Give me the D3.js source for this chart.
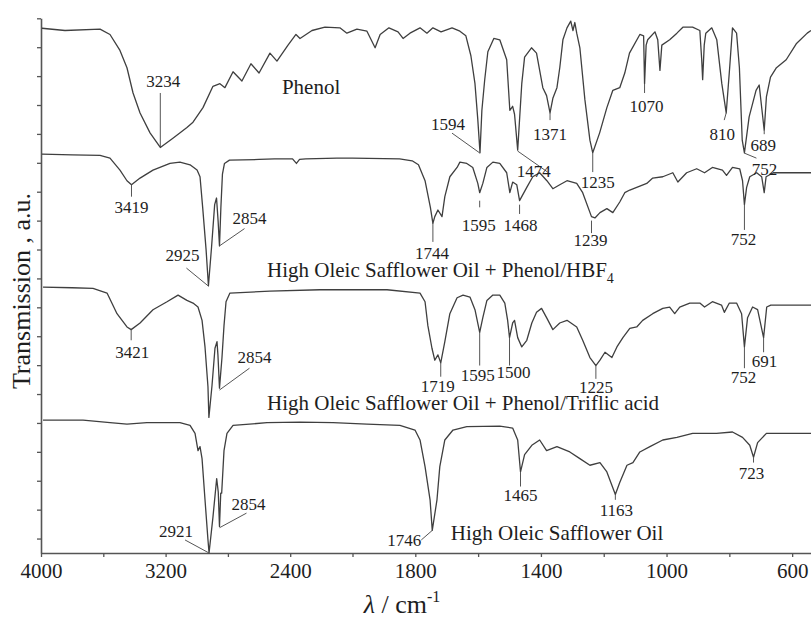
<!DOCTYPE html>
<html>
<head>
<meta charset="utf-8">
<title>FTIR spectra</title>
<script src="https://d3js.org/d3.v7.min.js"></script>
<style>
  body { margin:0; background:#fff; }
  svg text { font-family: "Liberation Serif", "Times New Roman", serif; fill:#1e1e1e; }
</style>
</head>
<body>
<svg id="chart" width="811" height="621"></svg>
<script>
// spectra: [wavenumber cm-1, transmission (a.u., 0-100 within its own trace)]
const phenol = [[3994,94.7],[3846,93],[3621,94],[3557,90],[3493,78],[3448,65],[3409,46],[3364,31],[3300,16],[3234,5],[3153,12],[3063,20],[3024,24],[2960,35],[2896,51],[2851,53],[2819,50],[2767,62],[2710,55],[2652,68],[2600,61],[2530,76],[2485,70],[2414,82],[2363,90],[2337,87],[2260,93],[2177,95.5],[2081,95],[2036,91],[1986,94],[1954,92.5],[1928,80],[1912,90],[1884,95],[1855,92],[1839,87],[1817,91],[1785,95],[1763,91],[1744,95],[1718,92],[1683,95],[1658,92.5],[1639,89],[1623,74],[1610,53],[1601,26],[1594,1],[1588,33],[1579,56],[1569,77],[1550,87],[1531,86],[1509,71],[1499,33],[1490,36],[1484,30],[1474,3],[1461,53],[1452,73],[1430,80],[1414,76],[1394,50],[1382,44],[1371,31],[1362,42],[1349,50],[1340,65],[1330,86],[1317,95],[1305,100],[1298,93],[1292,99],[1286,91],[1276,80],[1260,41],[1244,10.5],[1235,1],[1213,16],[1190,35],[1171,48],[1149,50],[1133,61],[1118,76],[1085,90],[1073,89],[1070,53],[1065,82],[1060,86],[1037,92],[1028,86],[1021,63],[1015,82],[990,86],[967,91],[948,95.5],[917,95.5],[894,93],[888,71],[885,56],[880,82],[875,91],[856,95],[840,86],[824,53],[810,31],[799,65],[790,95],[777,91],[768,65],[759,10.5],[752,1],[737,28],[715,48],[705,52],[689,18],[682,43],[669,58],[650,65],[619,71],[587,83],[552,91],[540,93]];

const hbf4 = [[3994,100],[3800,99.5],[3621,99],[3557,97],[3493,88],[3448,80],[3419,77],[3364,82],[3281,88],[3172,93],[3108,94],[3043,92],[2998,88],[2979,83],[2962,60],[2940,28],[2925,1],[2905,30],[2885,62],[2873,67],[2863,50],[2854,31],[2845,60],[2835,85],[2822,93],[2790,95.5],[2600,96],[2500,96.5],[2385,96.5],[2360,93],[2340,96],[2300,96.5],[2100,97],[2000,97],[1850,96.5],[1810,95],[1790,92],[1769,80],[1752,60],[1744,48],[1738,53],[1728,58],[1715,53],[1706,68],[1690,83],[1667,90],[1658,94],[1636,93],[1617,90],[1601,78],[1595,71],[1585,78],[1572,90],[1553,94],[1531,93],[1509,86],[1499,71],[1490,79],[1477,77],[1468,65],[1445,75],[1426,83],[1404,86],[1381,80],[1362,74],[1340,77],[1317,80],[1286,78],[1267,71],[1239,53],[1228,52],[1212,56],[1190,59],[1171,56],[1149,64],[1133,71],[1117,73],[1095,75],[1063,78],[1044,82],[1012,83],[980,86],[964,79],[936,86],[904,89],[879,86],[854,90],[822,88],[809,84],[790,90],[767,89],[758,80],[752,62],[745,75],[735,83],[713,86],[697,83],[689,71],[683,83],[660,86],[576,86],[540,86]];

const triflic = [[3987,100],[3800,99.5],[3666,99],[3576,95.5],[3512,80],[3448,70],[3421,68],[3364,73],[3281,83],[3191,89],[3120,94],[3063,90],[3024,88],[2992,85],[2966,75],[2947,55],[2928,25],[2922,2],[2902,26],[2883,54],[2870,59],[2864,49],[2854,24],[2838,47],[2825,71],[2812,89],[2787,95.5],[2530,97],[2209,98],[1890,98],[1785,95.5],[1769,89],[1760,71],[1747,54],[1738,45],[1728,49],[1719,43],[1706,59],[1690,80],[1667,92],[1648,94],[1626,92.5],[1610,83],[1595,66],[1585,77],[1572,90],[1553,94],[1531,94],[1515,88],[1506,75],[1500,62],[1490,73],[1484,75],[1474,62],[1461,55],[1445,60],[1429,73],[1414,81],[1398,84],[1382,77],[1362,68],[1340,73],[1317,75],[1286,70],[1267,60],[1244,47],[1225,41],[1212,45],[1196,51],[1174,47],[1158,55],[1139,62],[1117,69],[1095,70],[1076,75],[1044,80],[1012,84],[990,85],[974,80],[958,85],[926,88],[894,88],[879,85],[854,89],[825,86.5],[816,81],[800,88],[777,88],[761,80],[752,55],[742,77],[726,85],[710,83],[691,62],[681,85],[668,86.5],[576,86.5],[540,86.5]];

const oil = [[3987,100],[3730,100],[3557,98],[3448,97],[3320,98],[3108,98],[3043,96],[3011,90],[2992,77],[2979,80],[2966,71],[2947,40],[2928,10],[2921,0],[2896,27],[2872,56],[2862,46],[2854,20],[2846,45],[2840,45],[2825,77],[2806,90],[2767,96],[2549,98],[2337,98.5],[2125,98],[1954,97],[1849,96],[1801,92.5],[1785,85],[1769,65],[1753,40],[1746,17],[1731,40],[1722,65],[1706,85],[1680,92.5],[1636,95],[1531,95.5],[1490,94],[1474,85],[1465,61],[1452,74],[1429,81],[1404,85],[1382,77],[1349,80],[1308,76],[1276,71],[1244,66],[1212,68],[1190,61],[1163,44],[1149,53],[1126,66],[1107,68],[1085,76],[1053,80],[1012,85],[967,87],[917,90],[841,90],[790,91],[758,87],[735,81],[723,72],[710,83],[682,90],[631,90],[576,90],[540,90]];

const seriesNames = ["Phenol", "High Oleic Safflower Oil + Phenol/HBF", "High Oleic Safflower Oil + Phenol/Triflic acid", "High Oleic Safflower Oil"];
const seriesSub = ["", "4", "", ""];

// labelled band positions per trace
const phenolPeaks = [3234, 1594, 1474, 1371, 1235, 1070, 810, 689, 752];
const hbf4Peaks = [3419, 2925, 2854, 1744, 1595, 1468, 1239, 752];
const triflicPeaks = [3421, 2854, 1719, 1595, 1500, 1225, 752, 691];
const oilPeaks = [2921, 2854, 1746, 1465, 1163, 723];

const xTicks = [4000, 3600, 3200, 2800, 2400, 2000, 1800, 1600, 1400, 1200, 1000, 800, 600];
const xTickLabels = [4000, 3200, 2400, 1800, 1400, 1000, 600];

// ---- layout ----
// trace stacking (y units) and height of one trace
const offsets = [13.3, 8.7, 4.1, -0.5];
const span = 4.6;
// annotation placement: [leader T start, leader T end, leader dx, text dx, text baseline T]
const peakLayout = [
  [[6,46,0,3,50.4],[0.75,15.8,-28,-32,18],[2.3,-13.5,30,16,-17.3],[31,25.6,0,0,10.5],[0.75,-13.5,0,5,-25.6],[53,46,0,2,32],[31,25.6,-2,-4,10.5],[18,15,0,-1,2.3],[0.75,-3,12,20,-15.8]],
  [[77,68,0,0,56],[0.75,14.3,-22,-26,19.5],[31,44,25,30,47.4],[48,34,0,-1,21.5],[65,60,0,-1,42],[62,55,0,1,42],[50,40.6,0,-1,31],[62,43,0,-1,31.6]],
  [[68,60,0,1,46.6],[22.6,39,30,35,43],[43,32.6,0,-3,20.8],[66,41,0,-2,29],[62,41,0,4,31.6],[41,31,0,0,20],[55,39,0,-1,28],[62,51,0,1,40]],
  [[0,9.8,-24,-33,12],[19,30,27,29,32],[17,9.8,-11,-28,5.3],[61,50,0,0,39],[44,40,0,1,28],[72,68,0,-2,56]]
];
// series name anchor: [wavenumber of text start, baseline T]
const nameLayout = [[2453, 45], [2549, 7.5], [2549, 7.5], [1687, 9.8]];

const spectra = [phenol, hbf4, triflic, oil];
const peaks = [phenolPeaks, hbf4Peaks, triflicPeaks, oilPeaks];

const svg = d3.select("#chart");

const x = d3.scaleLinear().domain([4000, 2000, 540]).range([41, 352.5, 811]);
const y = d3.scaleLinear().domain([-0.5, 18]).range([553, 18.3]);
const yv = (i, t) => y(offsets[i] + t / 100 * span);

const axisColor = "#555";

// x axis
const gx = svg.append("g")
    .attr("transform", `translate(0,${y(-0.5)})`)
    .call(d3.axisBottom(x).tickValues(xTicks)
      .tickFormat(d => xTickLabels.includes(d) ? d : "")
      .tickSize(4).tickSizeOuter(0));
gx.select(".domain").attr("stroke", axisColor).attr("stroke-width", 1.6);
gx.selectAll(".tick line").attr("stroke", axisColor).attr("stroke-width", 1.3);
gx.selectAll("text").attr("y", 10).attr("dy", "0.71em")
    .style("font-size", "21px").attr("fill", "#1e1e1e");

// y axis
const gy = svg.append("g")
    .attr("transform", `translate(${x(4000)},0)`)
    .call(d3.axisLeft(y).tickValues(d3.range(0, 19)).tickFormat("")
      .tickSize(4).tickSizeOuter(0));
gy.select(".domain").attr("stroke", axisColor).attr("stroke-width", 1.6);
gy.selectAll(".tick line").attr("stroke", axisColor).attr("stroke-width", 1.3);

// traces
const line = i => d3.line().x(d => x(d[0])).y(d => yv(i, d[1]));
spectra.forEach((s, i) => {
  svg.append("path")
    .datum(s)
    .attr("fill", "none")
    .attr("stroke", "#3f3f3f")
    .attr("stroke-width", 1.3)
    .attr("stroke-linejoin", "round")
    .attr("d", line(i));
});

// peak annotations
peaks.forEach((list, i) => {
  const g = svg.append("g");
  list.forEach((wn, j) => {
    const [t1, t2, ldx, tdx, tt] = peakLayout[i][j];
    const px = x(wn);
    g.append("line")
      .attr("x1", px).attr("y1", yv(i, t1))
      .attr("x2", px + ldx).attr("y2", yv(i, t2))
      .attr("stroke", "#555").attr("stroke-width", 1);
    g.append("text")
      .attr("x", px + tdx).attr("y", yv(i, tt))
      .attr("text-anchor", "middle")
      .style("font-size", "17px")
      .text(wn);
  });
});

// series names
seriesNames.forEach((name, i) => {
  const t = svg.append("text")
    .attr("x", x(nameLayout[i][0]))
    .attr("y", yv(i, nameLayout[i][1]))
    .style("font-size", "21px")
    .text(name);
  if (seriesSub[i]) {
    t.append("tspan").attr("dy", 6).style("font-size", "14px").text(seriesSub[i]);
  }
});

// axis titles
svg.append("text")
  .attr("transform", `translate(30,291) rotate(-90)`)
  .attr("text-anchor", "middle")
  .style("font-size", "26px")
  .text("Transmission , a.u.");

const xt = svg.append("text")
  .attr("x", 402).attr("y", 613)
  .attr("text-anchor", "middle")
  .style("font-size", "26px");
xt.append("tspan").style("font-style", "italic").text("λ");
xt.append("tspan").text(" / cm");
xt.append("tspan").attr("dy", -11).style("font-size", "16px").text("-1");
</script>
</body>
</html>
